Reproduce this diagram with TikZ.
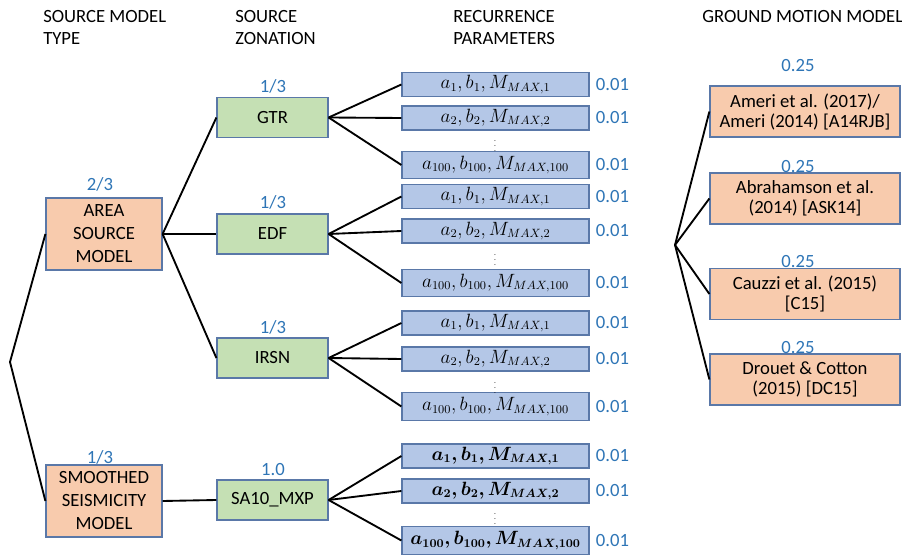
\documentclass[tikz,border=0pt]{standalone}
\usepackage{fontspec}
\setmainfont{Carlito}
\usepackage{amsmath,bm}

\definecolor{orfill}{HTML}{F8CBAD}
\definecolor{grfill}{HTML}{C5E0B4}
\definecolor{blfill}{HTML}{B4C7E7}
\definecolor{edgeblue}{HTML}{5A78A8}
\definecolor{wtblue}{HTML}{2E75B6}

\tikzset{
  txt/.style     ={font=\fontsize{14}{17.25}\selectfont, inner sep=0pt},
  head/.style    ={txt, anchor=base west},
  wt/.style      ={txt, text=wtblue},
  box/.style     ={txt, draw=edgeblue, line width=0.9pt, align=center},
  srcbox/.style  ={box, fill=orfill, minimum width=87pt, minimum height=54pt},
  zonebox/.style ={box, fill=grfill, minimum width=83.25pt, minimum height=30pt},
  recbox/.style  ={box, fill=blfill, minimum width=140.25pt, minimum height=18pt,
                   font=\fontsize{13.5}{15}\selectfont},
  tallbox/.style ={recbox, minimum height=20.5pt},
  gmmbox/.style  ={box, fill=orfill, minimum width=142.5pt, minimum height=38.25pt,
                   font=\fontsize{14}{15}\selectfont},
  branch/.style  ={line width=1.4pt},
  vdot/.style    ={inner sep=0pt, font=\fontsize{5.5}{5.5}\selectfont},
}

\begin{document}
\begin{tikzpicture}[x=0.75pt, y=-0.75pt]

    \useasboundingbox (0,0) rectangle (902,555);

    % column titles
    \node [head] (t1a) at ( 43, 23) {SOURCE MODEL};
    \node [head] (t1b) at ( 43, 45) {TYPE};
    \node [head] (t2a) at (235, 23) {SOURCE};
    \node [head] (t2b) at (235, 45) {ZONATION};
    \node [head] (t3a) at (453, 23) {RECURRENCE};
    \node [head] (t3b) at (453, 45) {PARAMETERS};
    \node [head] (t4a) at (702, 23) {GROUND MOTION MODEL};

    % source model type
    \coordinate (root) at (10, 362);
    \node [srcbox] (area)   at (104, 234) {AREA\\SOURCE\\MODEL};
    \node [srcbox] (smooth) at (104, 501) {SMOOTHED\\SEISMICITY\\MODEL};
    \node [wt] (warea)   at (100, 184) {2/3};
    \node [wt] (wsmooth) at (100, 457) {1/3};

    % source zonation
    \node [zonebox] (gtr)  at (272.5, 117.5) {GTR};
    \node [zonebox] (edf)  at (272.5, 234  ) {EDF};
    \node [zonebox] (irsn) at (272.5, 358  ) {IRSN};
    \node [zonebox] (sa)   at (272.5, 500  ) {SA10\_MXP};
    \node [wt] (wgtr)  at (273,  86) {1/3};
    \node [wt] (wedf)  at (273, 202) {1/3};
    \node [wt] (wirsn) at (273, 327) {1/3};
    \node [wt] (wsa)   at (273, 470) {1.0};

    % recurrence parameters
    \node [recbox]  (gtr1) at (495.5,  84.5) {$a_{1}, b_{1}, M_{MAX,1}$};
    \node [recbox]  (gtr2) at (495.5, 118  ) {$a_{2}, b_{2}, M_{MAX,2}$};
    \node [tallbox] (gtr3) at (495.5, 165  ) {$a_{100}, b_{100}, M_{MAX,100}$};
    \node [recbox]  (edf1) at (495.5, 196.5) {$a_{1}, b_{1}, M_{MAX,1}$};
    \node [recbox]  (edf2) at (495.5, 231  ) {$a_{2}, b_{2}, M_{MAX,2}$};
    \node [tallbox] (edf3) at (495.5, 283  ) {$a_{100}, b_{100}, M_{MAX,100}$};
    \node [recbox]  (irsn1) at (495.5, 323  ) {$a_{1}, b_{1}, M_{MAX,1}$};
    \node [recbox]  (irsn2) at (495.5, 359  ) {$a_{2}, b_{2}, M_{MAX,2}$};
    \node [tallbox] (irsn3) at (495.5, 406.5) {$a_{100}, b_{100}, M_{MAX,100}$};
    \node [recbox]  (sa1) at (495.5, 456  ) {$\bm{a_{1}, b_{1}, M_{MAX,1}}$};
    \node [recbox]  (sa2) at (495.5, 491  ) {$\bm{a_{2}, b_{2}, M_{MAX,2}}$};
    \node [tallbox] (sa3) at (495.5, 540.5) {$\bm{a_{100}, b_{100}, M_{MAX,100}}$};

    \node [vdot] (dgtr)  at (495, 142) {$\vdots$};
    \node [vdot] (dedf)  at (495, 256) {$\vdots$};
    \node [vdot] (dirsn) at (495, 384) {$\vdots$};
    \node [vdot] (dsa)   at (495, 515) {$\vdots$};

    \foreach \r in {gtr1, gtr2, gtr3, edf1, edf2, edf3, irsn1, irsn2, irsn3, sa1, sa2, sa3}
        \node [wt, anchor=west] (w\r) at ([xshift=4.5pt] \r.east) {0.01};

    % ground motion model
    \coordinate (groot) at (675, 245);
    \node [gmmbox] (a14) at (805, 111.5) {Ameri et al. (2017)/\\Ameri (2014) [A14RJB]};
    \node [gmmbox] (ask) at (805, 198.5) {Abrahamson et al.\\(2014) [ASK14]};
    \node [gmmbox] (c15) at (805, 294  ) {Cauzzi et al. (2015)\\{}[C15]};
    \node [gmmbox] (dc)  at (805, 379.5) {Drouet \& Cotton\\(2015) [DC15]};
    \node [wt] (wa14) at (798,  66) {0.25};
    \node [wt] (wask) at (798, 167) {0.25};
    \node [wt] (wc15) at (798, 262) {0.25};
    \node [wt] (wdc)  at (798, 348) {0.25};

    % branches
    \draw [branch] (area.west) -- (root) -- (smooth.west);
    \foreach \z in {gtr, edf, irsn}
        \draw [branch] (area.east) -- (\z.west);
    \draw [branch] (smooth.east) -- (sa.west);
    \foreach \z in {gtr, edf, irsn, sa}
        \foreach \i in {1,2,3}
            \draw [branch] (\z.east) -- (\z\i.west);
    \foreach \g in {a14, ask, c15, dc}
        \draw [branch] (groot) -- (\g.west);

\end{tikzpicture}
\end{document}
